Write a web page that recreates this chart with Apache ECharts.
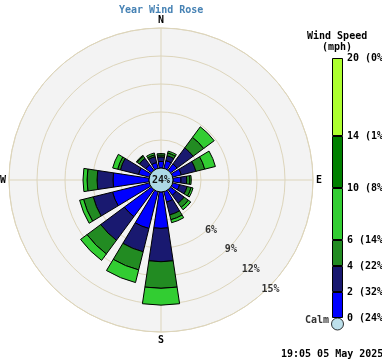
<!DOCTYPE html>
<html>
<head>
<meta charset="utf-8">
<script src="https://cdn.jsdelivr.net/npm/echarts@6/dist/echarts.min.js"></script>
<style>
  html, body { margin: 0; padding: 0; background: #fff; }
  #chart { width: 382px; height: 361px; }
</style>
</head>
<body>
<div id="chart"></div>
<script>
// directions, clockwise from north
const directions = ['N', 'NNE', 'NE', 'ENE', 'E', 'ESE', 'SE', 'SSE', 'S', 'SSW', 'SW', 'WSW', 'W', 'WNW', 'NW', 'NNW'];

// % of readings per direction, one array per speed band (mph)
const band0to2 = [0.7, 0.86, 0.86, 0.96, 0.86, 0.77, 0.75, 1.15, 3.9, 4.07, 3.6, 4.07, 3.86, 1.2, 0.75, 0.65];
const band2to4 = [0.5, 0.54, 2.14, 1.61, 0.61, 0.83, 1.05, 1.42, 3.57, 2.57, 3.15, 2.13, 1.71, 2.0, 0.85, 0.65];
const band4to6 = [0.2, 0.3, 1.4, 0.97, 0.35, 0.44, 0.56, 0.53, 2.85, 2.0, 1.82, 1.07, 1.07, 0.3, 0.3, 0.2];
const band6to10 = [0.15, 0.2, 1.4, 1.18, 0.14, 0.21, 0.32, 0.33, 1.8, 1.4, 0.86, 0.43, 0.43, 0.55, 0.1, 0.2];

const calmPercent = 24;

// legend: speed edges and the % shown next to each edge
const speedEdges = [0, 2, 4, 6, 10, 14, 20];
const edgePercents = [24, 32, 22, 14, 8, 1, 0];
const bandColors = ['#0000ff', '#191970', '#228b22', '#32cd32', '#008000', '#adff2f'];

const ringLabels = [6, 9, 12, 15];
const compassLabels = { 0: 'N', 90: 'E', 180: 'S', 270: 'W' };

const font = { fontFamily: 'DejaVu Sans Mono', fontWeight: 'bold', fontSize: 10, color: '#000' };
const tan = '#ddd5bb';
const hidden = { axisLine: { show: false }, axisTick: { show: false }, axisLabel: { show: false }, splitLine: { show: false } };

const myChart = echarts.init(document.getElementById('chart'));

const roseBands = [band0to2, band2to4, band4to6, band6to10];
const roseSeries = roseBands.map((band, i) => ({
  type: 'bar',
  coordinateSystem: 'polar',
  polarIndex: 2,
  stack: 'rose',
  barWidth: '76%',
  silent: true,
  data: band,
  itemStyle: { color: bandColors[i], borderColor: '#000', borderWidth: 1 }
}));

const legendSeries = bandColors.map((c, i) => ({
  type: 'bar',
  xAxisIndex: 0,
  yAxisIndex: 0,
  stack: 'legend',
  barWidth: 11,
  silent: true,
  data: [speedEdges[i + 1] - speedEdges[i]],
  itemStyle: { color: c, borderColor: '#000', borderWidth: 1 }
}));

const option = {
  animation: false,
  title: [
    { text: 'Year Wind Rose', left: 119, top: 5, padding: 0,
      textStyle: { ...font, color: '#4682b4' } },
    { text: 'Wind Speed', left: 307, top: 31, padding: 0, textStyle: font },
    { text: '(mph)', left: 322, top: 42, padding: 0, textStyle: font },
    { text: '19:05 05 May 2025', left: 281, top: 349, padding: 0, textStyle: font }
  ],
  polar: [
    { center: [161, 180], radius: [12, 152] },
    { center: [161, 180], radius: [12, 152] },
    { center: [161, 180], radius: [12, 152] }
  ],
  angleAxis: [
    { polarIndex: 0, type: 'value', min: 0, max: 360, startAngle: 90, ...hidden },
    {
      polarIndex: 1, type: 'value', min: 0, max: 360, interval: 90,
      startAngle: 90, clockwise: true,
      axisLine: { lineStyle: { color: tan, width: 1 } },
      axisTick: { show: false },
      axisLabel: { ...font, margin: 3, formatter: v => compassLabels[v] || '' },
      splitLine: { lineStyle: { color: tan, width: 1 } }
    },
    {
      polarIndex: 2, type: 'category', data: directions,
      startAngle: 90 + 360 / directions.length / 2, clockwise: true,
      ...hidden
    }
  ],
  radiusAxis: [
    {
      polarIndex: 0, min: 0, max: 15, interval: 3, ...hidden,
      splitArea: { show: true, areaStyle: { color: ['#f3f3f3'] } }
    },
    {
      polarIndex: 1, min: 0, max: 15, interval: 3,
      axisLine: { show: false }, axisTick: { show: false }, axisLabel: { show: false },
      splitLine: { show: true, lineStyle: { color: tan, width: 1 } }
    },
    { polarIndex: 2, min: 0, max: 15, interval: 3, ...hidden }
  ],
  grid: { left: 332, top: 58, width: 11, height: 260, containLabel: false, outerBoundsMode: 'none' },
  xAxis: { type: 'category', data: ['speed'], show: false },
  yAxis: {
    type: 'value', min: 0, max: 20, position: 'right',
    axisLine: { show: false }, axisTick: { show: false }, splitLine: { show: false },
    axisLabel: {
      ...font, margin: 4, customValues: speedEdges,
      formatter: v => v + ' (' + edgePercents[speedEdges.indexOf(v)] + '%)'
    }
  },
  series: [
    ...roseSeries,
    {
      type: 'scatter',
      coordinateSystem: 'polar',
      polarIndex: 1,
      silent: true,
      symbolSize: 0,
      data: ringLabels.map(v => [v, 135]),
      label: { show: true, position: 'inside', offset: [2, 2], ...font, formatter: p => p.value[0] + '%' },
      z: 1
    },
    {
      type: 'pie',
      center: [161, 180],
      radius: [0, 12],
      silent: true,
      data: [{ value: calmPercent }],
      itemStyle: { color: '#add8e6', borderColor: '#000', borderWidth: 1 },
      label: { show: true, position: 'center', ...font, color: '#111', formatter: '{c}%' },
      labelLine: { show: false },
      z: 5
    },
    ...legendSeries,
    {
      type: 'scatter',
      xAxisIndex: 0,
      yAxisIndex: 0,
      silent: true,
      symbolSize: 12,
      symbolOffset: [0, 6],
      data: [['speed', 0]],
      itemStyle: { color: '#add8e6', borderColor: '#000', borderWidth: 1 },
      label: { show: true, position: 'left', distance: 2, offset: [0, -4], ...font, formatter: 'Calm' },
      z: 5
    }
  ]
};

myChart.setOption(option);
</script>
</body>
</html>
